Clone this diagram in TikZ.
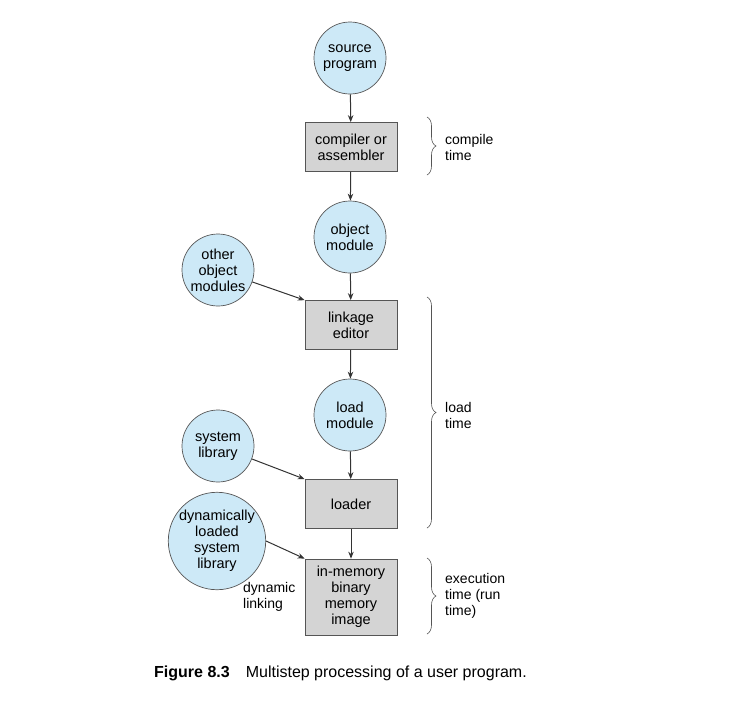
\documentclass[tikz,border=0pt]{standalone}
\usepackage{fontspec}
\setmainfont{Liberation Sans}
\usetikzlibrary{arrows.meta,decorations.pathreplacing}
\definecolor{modblue}{RGB}{205,233,247}
\definecolor{stagegray}{RGB}{212,212,212}
\definecolor{edgegray}{RGB}{85,85,85}
\tikzset{
  module/.style={circle, draw=edgegray, line width=0.7pt, fill=modblue, minimum size=72pt, inner sep=0pt, align=center, font=\fontsize{14.5}{16}\selectfont},
  stage/.style={rectangle, draw=edgegray, line width=0.7pt, fill=stagegray, minimum width=92pt, minimum height=49pt, inner sep=0pt, align=center, font=\fontsize{14.5}{16}\selectfont},
  flow/.style={-{Stealth[length=7pt,width=5.5pt]}, line width=1pt, draw=black!80},
  span/.style={decorate, decoration={brace, amplitude=9pt}, draw=edgegray, line width=0.6pt},
  note/.style={align=left, anchor=west, inner sep=0pt, font=\fontsize{14}{16}\selectfont}
}

\begin{document}
\begin{tikzpicture}[x=1pt,y=-1pt]
		%%%%% START %%%%%
		\useasboundingbox (0,0) rectangle (732,716);
		
		\node[module] (source) at (350,58) {source\\program};
		\node[stage] (compiler) at (351,147) {compiler or\\assembler};
		\node[module] (object) at (350,237) {object\\module};
		\node[module] (other) at (218,270) {other\\object\\modules};
		\node[stage] (linkage) at (351,325) {linkage\\editor};
		\node[module] (load) at (350,415) {load\\module};
		\node[module] (syslib) at (218,446) {system\\library};
		\node[stage] (loader) at (351,504) {loader};
		\node[module, minimum size=84pt] (dynlib) at (217,541) {dynamically\\loaded\\system\\library};
		\node[stage, minimum height=76pt] (image) at (351,597) {in-memory\\binary\\memory\\image};
		\node[note] (linking) at (243,597) {dynamic\\linking};
		
		\draw[flow] (source) -- (compiler);
		\draw[flow] (compiler) -- (object);
		\draw[flow] (object) -- (linkage);
		\draw[flow] (linkage) -- (load);
		\draw[flow] (load) -- (loader);
		\draw[flow] (loader) -- (image);
		\draw[flow] (other) -- (linkage.north west);
		\draw[flow] (syslib) -- (loader.north west);
		\draw[flow] (dynlib.east) -- (image.north west);
		
		\coordinate (compile top) at (427,117);
		\coordinate (compile end) at (427,175);
		\coordinate (load top) at (427,297);
		\coordinate (load end) at (427,528);
		\coordinate (run top) at (427,558);
		\coordinate (run end) at (427,634);
		\draw[span] (compile top) -- (compile end);
		\draw[span] (load top) -- (load end);
		\draw[span] (run top) -- (run end);
		
		\node[note] (compile) at (445,147) {compile\\time};
		\node[note] (loadtime) at (445,415) {load\\time};
		\node[note] (runtime) at (445,596) {execution\\time (run\\time)};
		
		\node[anchor=base west, inner sep=0pt, font=\fontsize{16}{18}\selectfont] (caption) at (154,677) {\textbf{Figure 8.3}\hspace{16pt}Multistep processing of a user program.};
		%%%%% END %%%%%
\end{tikzpicture}
\end{document}
